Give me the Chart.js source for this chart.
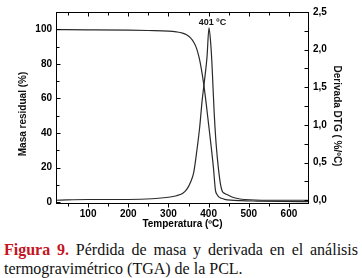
<!DOCTYPE html>
<html>
<head>
<meta charset="utf-8">
<script src="https://cdn.jsdelivr.net/npm/chart.js@4.4.0/dist/chart.umd.min.js"></script>
<style>
  html, body { margin: 0; padding: 0; background: #fff; }
  body { width: 362px; height: 278px; overflow: hidden; position: relative; }
  #chart-box { position: absolute; left: 0; top: 0; width: 362px; height: 232px; }
  #caption {
    position: absolute; left: 4px; top: 240px; width: 354px;
    font-family: 'Liberation Serif', 'Times New Roman', serif;
    font-size: 16px; line-height: 19px; text-align: justify; color: #111;
  }
  #caption .fig { color: #c4141e; font-weight: bold; }
</style>
</head>
<body>
<div id="chart-box"><canvas id="tga-chart" width="362" height="232"></canvas></div>
<div id="caption"><span class="fig">Figura 9.</span> Pérdida de masa y derivada en el análisis termogravimétrico (TGA) de la PCL.</div>
<script>
// TGA curve: residual mass (%) vs temperature (ºC)
const tgaTemp = [20, 100, 200, 250, 300, 320, 335, 345, 355, 363, 370, 376, 382, 388, 394, 400, 406, 412, 417, 421, 426, 432, 440, 455, 480, 520, 580, 650];
const tgaMass = [99.8, 99.7, 99.5, 99.3, 99.0, 98.5, 97.8, 96.8, 95.0, 92.5, 89, 84, 77, 68, 57, 45, 33, 20, 7, 4.5, 3, 2.3, 1.7, 1.2, 0.9, 0.7, 0.5, 0.4];

// DTG curve: derivative (%/ºC) vs temperature (ºC)
const dtgTemp = [20, 100, 200, 260, 300, 320, 335, 345, 355, 363, 371, 378, 384, 390, 396, 401, 405, 408, 411, 414, 418, 422, 426, 430, 434, 440, 448, 460, 475, 490, 550, 650];
const dtgRate = [0.0, 0.01, 0.01, 0.02, 0.04, 0.06, 0.09, 0.14, 0.24, 0.37, 0.67, 0.98, 1.33, 1.6, 1.9, 2.29, 2.1, 1.85, 1.5, 1.15, 0.8, 0.55, 0.35, 0.2, 0.12, 0.09, 0.07, 0.04, 0.02, 0.01, 0.0, 0.0];

// tick positions (labels only on the major ones)
const tempTicks = [50, 100, 150, 200, 250, 300, 350, 400, 450, 500, 550, 600];
const massTicks = [0, 10, 20, 30, 40, 50, 60, 70, 80, 90, 100];
const rateTicks = [0, 0.25, 0.5, 0.75, 1.0, 1.25, 1.5, 1.75, 2.0, 2.25, 2.5];

const leftTitle = 'Masa residual (%)';
const rightTitle = 'Derivada DTG ( %/ºC)';
const bottomTitle = 'Temperatura (ºC)';

const axisFont = { family: 'Liberation Sans', size: 10, weight: 'bold' };
const lineColor = '#2a2a2a';

const toPoints = (xs, ys) => xs.map((x, i) => ({ x, y: ys[i] }));
const useTicks = values => scale => { scale.ticks = values.map(value => ({ value })); };

// peak of the DTG curve, labelled on the chart
const peakRate = Math.max(...dtgRate);
const peakTemp = dtgTemp[dtgRate.indexOf(peakRate)];

const framePlugin = {
  id: 'frame',
  afterDraw(chart) {
    const { ctx, chartArea: area, scales } = chart;
    const { x, y, y2 } = scales;
    const left = Math.round(area.left) + 0.5;
    const right = Math.round(area.right) - 0.5;
    const top = Math.round(area.top) + 0.5;
    const bottom = Math.round(area.bottom) - 0.5;

    ctx.save();
    ctx.strokeStyle = '#000';
    ctx.lineWidth = 1;
    ctx.strokeRect(left, top, right - left, bottom - top);

    ctx.beginPath();
    // x ticks: outward at the bottom, inward at the top
    x.ticks.forEach(t => {
      if (t.value <= x.min || t.value >= x.max) return;
      const px = Math.round(x.getPixelForValue(t.value)) + 0.5;
      const len = t.value % 100 === 0 ? 4 : 3;
      ctx.moveTo(px, bottom); ctx.lineTo(px, bottom + len);
      ctx.moveTo(px, top); ctx.lineTo(px, top + len);
    });
    // left axis ticks, inward
    y.ticks.forEach(t => {
      if (t.value <= y.min || t.value >= y.max) return;
      const py = Math.round(y.getPixelForValue(t.value)) + 0.5;
      const len = t.value % 20 === 0 ? 4 : 3;
      ctx.moveTo(left, py); ctx.lineTo(left + len, py);
    });
    // right axis ticks, inward
    y2.ticks.forEach(t => {
      if (t.value <= y2.min || t.value >= y2.max) return;
      const py = Math.round(y2.getPixelForValue(t.value)) + 0.5;
      ctx.moveTo(right, py); ctx.lineTo(right - 4, py);
    });
    ctx.stroke();

    // peak label
    ctx.fillStyle = '#111';
    ctx.font = 'bold 9px "Liberation Sans"';
    ctx.textAlign = 'center';
    ctx.textBaseline = 'bottom';
    ctx.fillText(peakTemp + ' ºC', x.getPixelForValue(peakTemp) + 3.5, y2.getPixelForValue(peakRate) - 1);

    // vertical axis titles
    ctx.font = 'bold 10px "Liberation Sans"';
    ctx.textBaseline = 'middle';
    ctx.save();
    ctx.translate(23.5, 114);
    ctx.rotate(-Math.PI / 2);
    ctx.fillText(leftTitle, 0, 0);
    ctx.restore();
    ctx.save();
    ctx.translate(337, 116);
    ctx.rotate(Math.PI / 2);
    ctx.fillText(rightTitle, 0, 0);
    ctx.restore();

    ctx.restore();
  }
};

new Chart(document.getElementById('tga-chart'), {
  type: 'line',
  data: {
    datasets: [{
      label: 'TGA',
      data: toPoints(tgaTemp, tgaMass),
      yAxisID: 'y',
      borderColor: lineColor,
      borderWidth: 1.2,
      pointRadius: 0,
      cubicInterpolationMode: 'monotone',
      fill: false
    }, {
      label: 'DTG',
      data: toPoints(dtgTemp, dtgRate),
      yAxisID: 'y2',
      borderColor: lineColor,
      borderWidth: 1.2,
      pointRadius: 0,
      cubicInterpolationMode: 'monotone',
      fill: false
    }]
  },
  options: {
    responsive: false,
    animation: false,
    devicePixelRatio: 1,
    layout: { padding: { top: 12, left: 0, right: 0, bottom: 0 } },
    plugins: {
      legend: { display: false },
      tooltip: { enabled: false }
    },
    scales: {
      x: {
        type: 'linear',
        min: 20,
        max: 650,
        afterBuildTicks: useTicks(tempTicks),
        ticks: {
          autoSkip: false,
          maxRotation: 0,
          padding: 4,
          color: '#000',
          font: axisFont,
          callback: v => (v % 100 === 0 ? String(v) : '')
        },
        grid: { display: false, drawTicks: false },
        border: { display: false },
        title: { display: true, text: bottomTitle, color: '#000', font: axisFont, padding: { top: 0, bottom: 2 } },
        afterFit: s => { s.height = 28; }
      },
      y: {
        position: 'left',
        min: -1,
        max: 110,
        afterBuildTicks: useTicks(massTicks),
        ticks: {
          autoSkip: false,
          padding: 4,
          color: '#000',
          font: axisFont,
          callback: v => (v % 20 === 0 ? String(v) : '')
        },
        grid: { display: false, drawTicks: false },
        border: { display: false },
        afterFit: s => { s.width = 56; }
      },
      y2: {
        position: 'right',
        min: -0.05,
        max: 2.5,
        afterBuildTicks: useTicks(rateTicks),
        ticks: {
          autoSkip: false,
          padding: 4,
          color: '#000',
          font: axisFont,
          callback: v => {
            const half = v * 2;
            return Math.abs(half - Math.round(half)) < 1e-6 ? v.toFixed(1).replace('.', ',') : '';
          }
        },
        grid: { display: false, drawTicks: false },
        border: { display: false },
        afterFit: s => { s.width = 53; }
      }
    }
  },
  plugins: [framePlugin]
});
</script>
</body>
</html>
